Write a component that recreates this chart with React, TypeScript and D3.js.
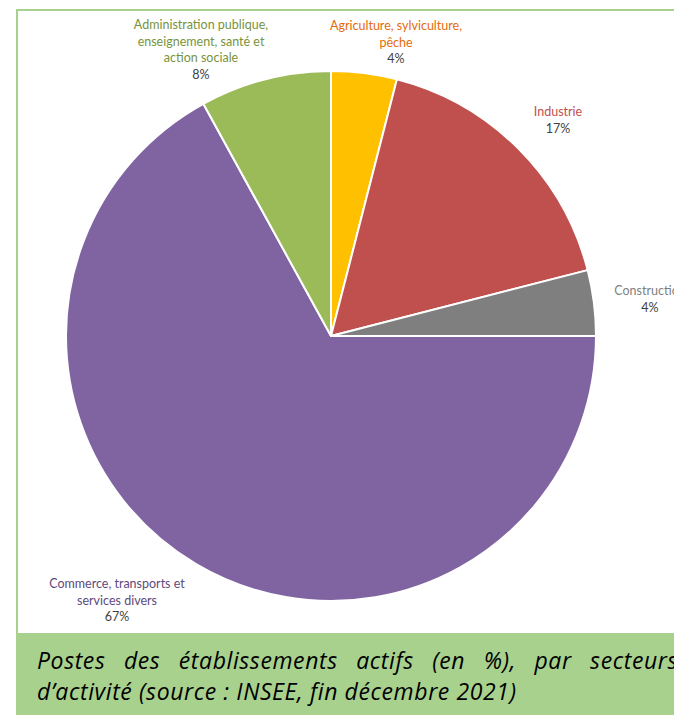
import React, { useMemo } from "react";
import * as d3 from "d3";

const categories = [
  "Agriculture, sylviculture, pêche",
  "Industrie",
  "Construction",
  "Commerce, transports et services divers",
  "Administration publique, enseignement, santé et action sociale",
];
const values = [4, 17, 4, 67, 8];
const labelLines = [
  ["Agriculture, sylviculture,", "pêche"],
  ["Industrie"],
  ["Construction"],
  ["Commerce, transports et", "services divers"],
  ["Administration publique,", "enseignement, santé et", "action sociale"],
];
const captionLines = [
  "Postes des établissements actifs (en %), par secteurs",
  "d’activité (source : INSEE, fin décembre 2021)",
];

const sliceColors = ["#ffc000", "#c0504d", "#7f7f7f", "#8064a2", "#9bbb59"];
const textColors = ["#e46c0a", "#c0504d", "#7f7f7f", "#604a7b", "#77933c"];
// label anchor: center x, baseline of first line
const labelAnchors: [number, number][] = [
  [396, 30],
  [558, 116],
  [650, 295],
  [117, 588],
  [201, 29],
];

const W = 674;
const H = 719;
const CX = 331;
const CY = 336;
const R = 265;
const LABEL_FONT = "Lato, 'Noto Sans', sans-serif";
const CAP_FAMILY = "'Open Sans'";
const CAP_FONT_SIZE = 23;
const CAP_LETTER = 0.6;
const CAP_FONT = `italic ${CAP_FONT_SIZE}px ${CAP_FAMILY}`;

function measure(text: string, font: string, ls: number): number {
  const c = document.createElement("canvas");
  const ctx = c.getContext("2d")!;
  ctx.font = font;
  return ctx.measureText(text).width + ls * text.length;
}

export default function App() {
  const pie = d3
    .pie<number>()
    .sort(null)
    .value((d) => d)
    .startAngle(0)
    .endAngle(2 * Math.PI);
  const arcs = pie(values);
  const arc = d3.arc<d3.PieArcDatum<number>>().innerRadius(0).outerRadius(R);
  const total = d3.sum(values);

  const justified = useMemo(() => {
    const words = captionLines[0].split(" ");
    const widths = words.map((w) => measure(w, CAP_FONT, CAP_LETTER));
    const x0 = 37;
    const x1 = 678;
    const totalW = d3.sum(widths);
    const gap = (x1 - x0 - totalW) / (words.length - 1);
    const xs: number[] = [];
    let x = x0;
    words.forEach((w, i) => {
      xs.push(x);
      x += widths[i] + gap;
    });
    return words.map((w, i) => ({ w, x: xs[i] }));
  }, []);

  return (
    <svg
      width={W}
      height={H}
      style={{ position: "absolute", left: 0, top: 0, background: "#fff" }}
    >
      {/* frame */}
      <line x1={17} y1={10} x2={W} y2={10} stroke="#a9d18e" strokeWidth={2} />
      <line x1={17} y1={9} x2={17} y2={634} stroke="#a9d18e" strokeWidth={2} />
      <rect x={16} y={633} width={W - 16} height={82} fill="#a9d18e" />

      <g transform={`translate(${CX},${CY})`}>
        {arcs.map((a, i) => (
          <path
            key={categories[i]}
            d={arc(a) || ""}
            fill={sliceColors[i]}
            stroke="#ffffff"
            strokeWidth={2}
            strokeLinejoin="round"
          />
        ))}
      </g>

      {arcs.map((a, i) => {
        const [lx, ly] = labelAnchors[i];
        const lines = labelLines[i];
        const pct = Math.round((values[i] / total) * 100) + "%";
        return (
          <text
            key={"lbl" + i}
            x={lx}
            y={ly}
            textAnchor="middle"
            fontFamily={LABEL_FONT}
            fontSize={12.5}
          >
            {lines.map((l, j) => (
              <tspan key={j} x={lx} y={ly + j * 16.7} fill={textColors[i]}>
                {l}
              </tspan>
            ))}
            <tspan x={lx} y={ly + lines.length * 16.7} fill="#404040">
              {pct}
            </tspan>
          </text>
        );
      })}

      <g
        fontFamily={CAP_FAMILY}
        fontStyle="italic"
        fontSize={CAP_FONT_SIZE}
        letterSpacing={CAP_LETTER}
        fill="#000"
      >
        {justified.map((d, i) => (
          <text key={i} x={d.x} y={669}>
            {d.w}
          </text>
        ))}
        <text x={37} y={700}>
          {captionLines[1]}
        </text>
      </g>
    </svg>
  );
}
